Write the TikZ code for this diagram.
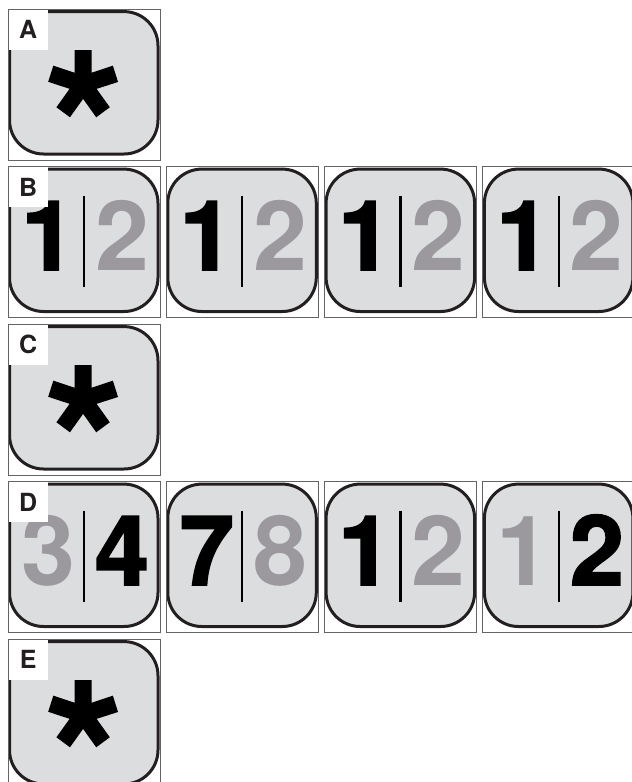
\documentclass[tikz,border=0pt]{standalone}
\usepackage{fontspec}
\setmainfont{TeX Gyre Heros}
\newfontfamily\heavyfont{TeX Gyre Heros Bold}[FakeBold=2]
\newfontfamily\starfont{TeX Gyre Heros Bold}[FakeBold=1.2]
\newfontfamily\boldfont{TeX Gyre Heros Bold}
\definecolor{boxfill}{RGB}{220,221,223}
\definecolor{boxline}{RGB}{35,31,32}
\definecolor{framecol}{RGB}{100,100,100}
\definecolor{digray}{RGB}{155,153,158}
\tikzset{
  frame/.style={draw=framecol, line width=0.9pt, minimum width=152pt, minimum height=151pt, inner sep=0pt, shape=rectangle},
  cellbox/.style={draw=boxline, fill=boxfill, line width=3pt, rounded corners=34pt, minimum width=148.5pt, minimum height=142.4pt, inner sep=0pt, shape=rectangle},
  labelbox/.style={fill=white, minimum width=39pt, minimum height=40pt, inner sep=0pt, text=boxline, font=\fontsize{25}{25}\selectfont\boldfont, anchor=north west},
  digit/.style={inner sep=0pt, anchor=base, font=\fontsize{97}{97}\selectfont\boldfont},
  heavydigit/.style={inner sep=0pt, anchor=base, font=\fontsize{97}{97}\selectfont\heavyfont},
  star/.style={inner sep=0pt, anchor=north, font=\fontsize{200}{200}\selectfont\starfont},
  divider/.style={draw=black, line width=2.3pt}
}
\newcommand\cellbase[3]{%
  \pgfmathsetmacro\xo{8+158.3*#2}%
  \pgfmathsetmacro\yo{9+157.5*#3}%
  \node[cellbox] (#1b) at (\xo+75.75,\yo+73.8) {};
}
\newcommand\cellframe[1]{%
  \node[frame] (#1f) at (\xo+76,\yo+75.5) {};
}
\newcommand\celllabel[2]{%
  \node[labelbox] (#1lab) at (\xo+0.5,\yo+0.5) {#2};
}
\newcommand\cellstar[1]{%
  \node[star] (#1s) at (\xo+76,\yo+42) {*};
}
% #2 left digit, #3 style of left, #4 right digit, #5 style of right
\newcommand\celldigits[5]{%
  \draw[divider] (\xo+76,\yo+29) -- (\xo+76,\yo+120);
  \node[#3] (#1l) at (\xo+40.5,\yo+103.5) {#2};
  \node[#5] (#1r) at (\xo+114,\yo+103.5) {#4};
}
\tikzset{
  blk/.style={heavydigit, text=black},
  gry/.style={digit, text=digray}
}
\begin{document}
\begin{tikzpicture}[x=1pt,y=-1pt]
\useasboundingbox (0,0) rectangle (632,782);
\clip (0,0) rectangle (632,782);
% Row A
\cellbase{a}{0}{0}\celllabel{a}{A}\cellstar{a}\cellframe{a}
% Row B
\cellbase{ba}{0}{1}\celldigits{ba}{1}{blk}{2}{gry}\celllabel{ba}{B}\cellframe{ba}
\cellbase{bb}{1}{1}\celldigits{bb}{1}{blk}{2}{gry}\cellframe{bb}
\cellbase{bc}{2}{1}\celldigits{bc}{1}{blk}{2}{gry}\cellframe{bc}
\cellbase{bd}{3}{1}\celldigits{bd}{1}{blk}{2}{gry}\cellframe{bd}
% Row C
\cellbase{c}{0}{2}\celllabel{c}{C}\cellstar{c}\cellframe{c}
% Row D
\cellbase{da}{0}{3}\celldigits{da}{3}{gry}{4}{blk}\celllabel{da}{D}\cellframe{da}
\cellbase{db}{1}{3}\celldigits{db}{7}{blk}{8}{gry}\cellframe{db}
\cellbase{dc}{2}{3}\celldigits{dc}{1}{blk}{2}{gry}\cellframe{dc}
\cellbase{dd}{3}{3}\celldigits{dd}{1}{gry}{2}{blk}\cellframe{dd}
% Row E
\cellbase{e}{0}{4}\celllabel{e}{E}\cellstar{e}\cellframe{e}
\end{tikzpicture}
\end{document}
